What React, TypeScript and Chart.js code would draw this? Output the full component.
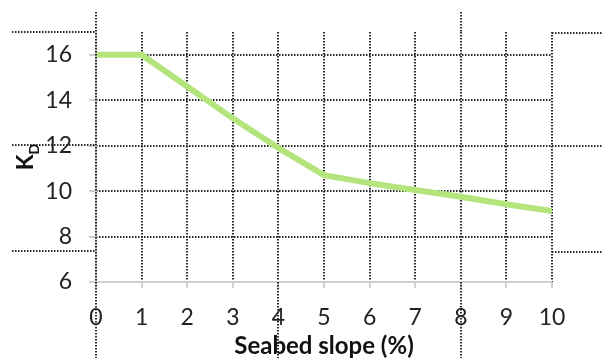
import { useEffect, useRef } from 'react';
import { Chart, registerables } from 'chart.js';

Chart.register(...registerables);

// ---- data ----
const slopes = [0, 1, 2, 3, 4, 5, 6, 7, 8, 9, 10];
const kdValues = [16, 16, 14.6, 13.2, 11.9, 10.7, 10.35, 10.05, 9.75, 9.42, 9.12];
const xTickValues = [0, 1, 2, 3, 4, 5, 6, 7, 8, 9, 10];
const yTickValues = [6, 8, 10, 12, 14, 16];
const xTitle = 'Seabed slope (%)';
const yTitleMain = 'K';
const yTitleSub = 'D';

// stray dotted guide lines visible in the source picture (in data units)
const strayH = [17, 12.05, 7.35];

const FONT = 'Lato, "Open Sans", sans-serif';
const GRID = '#2a2a2a';
const AXIS = '#d0d0d0';
const LINE = '#b4e47c';
const DASH = [1.5, 1.5];
const GRID_W = 2;

const titlePlugin = {
  id: 'ktitle',
  afterDraw(chart: any) {
    const { ctx, chartArea } = chart;
    const cy = (chartArea.top + chartArea.bottom) / 2;
    ctx.save();
    ctx.translate(26, cy);
    ctx.rotate(-Math.PI / 2);
    ctx.fillStyle = '#111';
    ctx.textBaseline = 'middle';
    ctx.font = `bold 23px ${FONT}`;
    const wK = ctx.measureText(yTitleMain).width;
    ctx.font = `bold 14px ${FONT}`;
    const wD = ctx.measureText(yTitleSub).width;
    const start = -(wK + wD) / 2;
    ctx.font = `bold 23px ${FONT}`;
    ctx.textAlign = 'left';
    ctx.fillText(yTitleMain, start, 0);
    ctx.font = `bold 14px ${FONT}`;
    ctx.fillText(yTitleSub, start + wK, 8);
    ctx.restore();
  },
};

// solid light-grey axis lines, drawn under the dotted strays
const axisPlugin = {
  id: 'axislines',
  afterDatasetsDraw(chart: any) {
    const { ctx, chartArea } = chart;
    ctx.save();
    ctx.strokeStyle = AXIS;
    ctx.lineWidth = 2;
    ctx.setLineDash([]);
    ctx.beginPath();
    ctx.moveTo(chartArea.left, chartArea.top);
    ctx.lineTo(chartArea.left, chartArea.bottom);
    ctx.lineTo(chartArea.right, chartArea.bottom);
    ctx.stroke();
    ctx.restore();
  },
};

const strayPlugin = {
  id: 'stray',
  afterDraw(chart: any) {
    const { ctx, chartArea, scales } = chart;
    const x = scales.x;
    const y = scales.y;
    const W = chart.width;
    const H = chart.height;
    ctx.save();
    ctx.strokeStyle = GRID;
    ctx.lineWidth = GRID_W;
    ctx.setLineDash(DASH);
    const seg = (x1: number, y1: number, x2: number, y2: number) => {
      ctx.beginPath();
      ctx.moveTo(x1, y1);
      ctx.lineTo(x2, y2);
      ctx.stroke();
    };
    strayH.forEach((v) => {
      const py = Math.round(y.getPixelForValue(v));
      seg(12, py, chartArea.left, py);
      seg(chartArea.right, py + 1, W - 2, py + 1);
    });
    const x0 = Math.round(x.getPixelForValue(0));
    seg(x0, 12, x0, H);
    const x4 = Math.round(x.getPixelForValue(4));
    seg(x4, chartArea.bottom, x4, H);
    const x8 = Math.round(x.getPixelForValue(8));
    seg(x8, 12, x8, chartArea.top);
    seg(x8, chartArea.bottom, x8, H);
    ctx.restore();
  },
};

export default function App() {
  const ref = useRef<HTMLCanvasElement | null>(null);

  useEffect(() => {
    if (!ref.current) return;
    const chart = new Chart(ref.current, {
      type: 'line',
      data: {
        datasets: [
          {
            data: slopes.map((s, i) => ({ x: s, y: kdValues[i] })),
            borderColor: LINE,
            borderWidth: 6,
            pointRadius: 0,
            tension: 0,
            fill: false,
          },
        ],
      },
      options: {
        responsive: false,
        animation: false,
        layout: { padding: { top: 32, right: 53, left: 0, bottom: 0 } },
        plugins: { legend: { display: false }, tooltip: { enabled: false } },
        scales: {
          x: {
            type: 'linear',
            min: 0,
            max: 10,
            afterBuildTicks: (s: any) => {
              s.ticks = xTickValues.map((v) => ({ value: v }));
            },
            afterFit: (s: any) => {
              s.height = 76;
            },
            ticks: {
              font: { family: FONT, size: 23 },
              color: '#222',
              padding: 16,
              maxRotation: 0,
            },
            grid: {
              color: (c: any) => (c.tick && c.tick.value === 0 ? 'rgba(0,0,0,0)' : GRID),
              lineWidth: GRID_W,
              tickColor: AXIS,
              tickLength: 6,
              tickWidth: 2,
              tickBorderDash: [],
            },
            border: { display: false, dash: DASH },
            title: {
              display: true,
              text: xTitle,
              font: { family: FONT, size: 24, weight: 'bold' },
              color: '#111',
              padding: { top: 0, bottom: -3 },
            },
          },
          y: {
            type: 'linear',
            min: 6,
            max: 17,
            afterBuildTicks: (s: any) => {
              s.ticks = yTickValues.map((v) => ({ value: v }));
            },
            afterFit: (s: any) => {
              s.width = 96;
            },
            ticks: {
              font: { family: FONT, size: 23 },
              color: '#222',
              padding: 17,
            },
            grid: {
              color: (c: any) => (c.tick && c.tick.value === 6 ? 'rgba(0,0,0,0)' : GRID),
              lineWidth: GRID_W,
              tickColor: AXIS,
              tickLength: 7,
              tickWidth: 2,
              tickBorderDash: [],
            },
            border: { display: false, dash: DASH },
          },
        },
      } as any,
      plugins: [axisPlugin, strayPlugin, titlePlugin],
    });
    return () => chart.destroy();
  }, []);

  return (
    <div style={{ position: 'fixed', left: 0, top: 0, width: 605, height: 358, background: '#fff' }}>
      <canvas ref={ref} width={605} height={358} />
    </div>
  );
}
